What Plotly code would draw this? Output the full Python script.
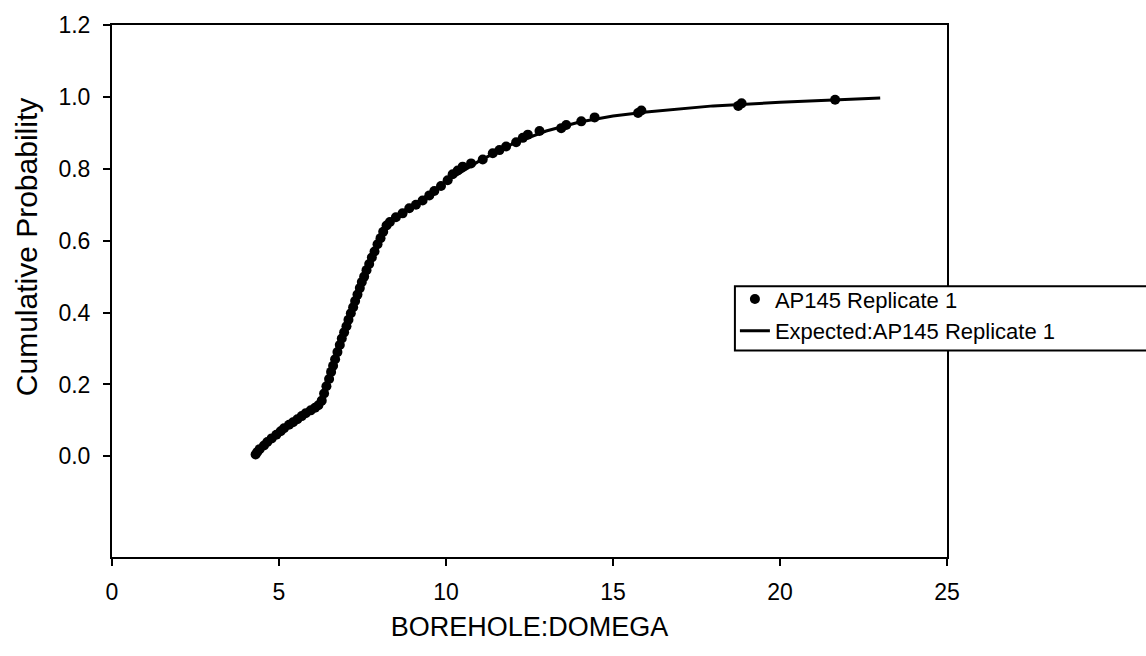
import plotly.graph_objects as go

# Observed cumulative probabilities for BOREHOLE:DOMEGA
obs_x = [4.30, 4.35, 4.42, 4.55, 4.65, 4.78, 4.92, 5.05, 5.15, 5.30, 5.42, 5.55, 5.68, 5.80,
         5.95, 6.08, 6.18, 6.28, 6.35, 6.42, 6.50, 6.56, 6.62, 6.68, 6.75, 6.82, 6.88, 6.95,
         7.02, 7.08, 7.15, 7.22, 7.28, 7.35, 7.42, 7.48, 7.55, 7.62, 7.70, 7.78, 7.86, 7.95,
         8.04, 8.12, 8.22, 8.32, 8.50, 8.70, 8.90, 9.10, 9.30, 9.50, 9.65, 9.85, 10.05, 10.20,
         10.35, 10.50, 10.75, 11.10, 11.40, 11.60, 11.80, 12.10, 12.30, 12.45, 12.80, 13.45,
         13.60, 14.05, 14.45, 15.75, 15.85, 18.75, 18.85, 21.65]
obs_p = [0.005, 0.012, 0.020, 0.030, 0.040, 0.050, 0.060, 0.070, 0.078, 0.088, 0.095, 0.103,
         0.112, 0.120, 0.128, 0.135, 0.142, 0.155, 0.175, 0.195, 0.215, 0.235, 0.252, 0.270,
         0.290, 0.310, 0.328, 0.345, 0.362, 0.380, 0.398, 0.415, 0.432, 0.450, 0.468, 0.485,
         0.500, 0.518, 0.535, 0.553, 0.570, 0.590, 0.607, 0.625, 0.642, 0.652, 0.665, 0.676,
         0.690, 0.700, 0.712, 0.726, 0.738, 0.752, 0.768, 0.785, 0.795, 0.806, 0.815, 0.826,
         0.843, 0.852, 0.862, 0.874, 0.886, 0.895, 0.905, 0.913, 0.922, 0.932, 0.943, 0.955,
         0.962, 0.975, 0.982, 0.992]

# Expected distribution curve
exp_x = [4.3, 5.0, 5.6, 6.2, 6.4, 7.0, 7.6, 8.3, 9.0, 10.0, 11.0, 12.0, 13.0, 14.0, 15.0,
         16.0, 18.0, 20.0, 23.0]
exp_p = [0.005, 0.066, 0.105, 0.142, 0.190, 0.355, 0.515, 0.650, 0.695, 0.765, 0.822, 0.870,
         0.905, 0.930, 0.947, 0.958, 0.975, 0.985, 0.997]

x_ticks = [0, 5, 10, 15, 20, 25]
y_ticks = [0.0, 0.2, 0.4, 0.6, 0.8, 1.0, 1.2]

FONT = "Liberation Sans, Arial, sans-serif"

fig = go.Figure()
fig.add_trace(go.Scatter(
    x=obs_x, y=obs_p, mode="markers", name="AP145 Replicate 1",
    marker=dict(color="black", size=10, line=dict(width=0)),
))
fig.add_trace(go.Scatter(
    x=exp_x, y=exp_p, mode="lines", name="Expected:AP145 Replicate 1",
    line=dict(color="black", width=3),
))

axis_common = dict(
    showgrid=False, zeroline=False, showline=True, linecolor="black", linewidth=2,
    mirror=True, ticks="outside", ticklen=7, tickwidth=2, tickcolor="black",
    tickfont=dict(family=FONT, size=23, color="black"),
)

fig.update_layout(
    width=1146, height=656,
    margin=dict(l=112, r=199, t=19, b=99),
    paper_bgcolor="white", plot_bgcolor="white",
    font=dict(family=FONT, color="black"),
    xaxis=dict(range=[0, 25], tickvals=x_ticks, ticktext=[str(v) for v in x_ticks],
               ticklabelstandoff=6,
               title=dict(text="BOREHOLE:DOMEGA", font=dict(family=FONT, size=27), standoff=14),
               **axis_common),
    yaxis=dict(range=[-0.28, 1.2], tickvals=y_ticks, tickformat=".1f",
               ticklabelstandoff=8, **axis_common),
    legend=dict(x=0.746, y=0.524, xanchor="left", yanchor="top",
                bgcolor="rgba(0,0,0,0)", borderwidth=0,
                font=dict(family=FONT, size=22, color="black"),
                tracegroupgap=0, itemwidth=30),
    showlegend=True,
    # legend frame, running off the right edge of the page
    shapes=[dict(type="rect", xref="paper", yref="paper", x0=0.746, x1=1.35, y0=0.388, y1=0.509,
                 fillcolor="white", line=dict(color="black", width=2), layer="above")],
    annotations=[dict(text="Cumulative Probability", xref="paper", yref="paper",
                      x=-0.102, y=0.582, xanchor="center", yanchor="middle", textangle=-90,
                      showarrow=False, font=dict(family=FONT, size=30, color="black"))],
)

fig.write_html("out.html")
